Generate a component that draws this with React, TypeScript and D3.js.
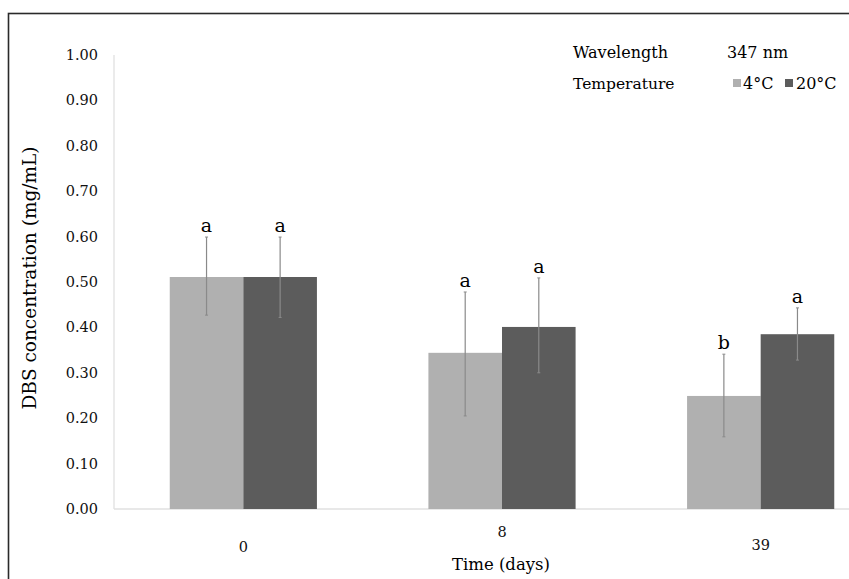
import React from "react";
import * as d3 from "d3";

const categories = ["0", "8", "39"];
const series = ["4°C", "20°C"];
const means4 = [0.511, 0.344, 0.249];
const means20 = [0.511, 0.401, 0.385];
const errLow4 = [0.427, 0.205, 0.159];
const errHigh4 = [0.599, 0.478, 0.341];
const errLow20 = [0.422, 0.300, 0.328];
const errHigh20 = [0.599, 0.509, 0.443];
const letters4 = ["a", "a", "b"];
const letters20 = ["a", "a", "a"];
const yTicks = [0, 0.1, 0.2, 0.3, 0.4, 0.5, 0.6, 0.7, 0.8, 0.9, 1.0];
const colors = ["#b0b0b0", "#5c5c5c"];

const W = 849;
const H = 579;
const FONT = "'DejaVu Serif', serif";

export default function App() {
  const x = d3.scaleBand<string>().domain(categories).range([114, 890]).paddingInner(0.431).paddingOuter(0.2155);
  const xs = d3.scaleBand<string>().domain(series).range([0, x.bandwidth()]);
  const y = d3.scaleLinear().domain([0, 1]).range([509, 55]);

  const seriesData = [
    { means: means4, lo: errLow4, hi: errHigh4, letters: letters4 },
    { means: means20, lo: errLow20, hi: errHigh20, letters: letters20 },
  ];
  const xLabelDy = [0, -15, -2];

  return (
    <svg width={W} height={H} style={{ position: "absolute", left: 0, top: 0, background: "#fff" }}>
      <rect x={0} y={0} width={W} height={H} fill="#fff" />
      <rect x={8.5} y={13.5} width={W + 20} height={H + 20} fill="none" stroke="#2a2a2a" strokeWidth={1.6} />
      <line x1={114} x2={114} y1={y(1)} y2={y(0)} stroke="#e4e4e4" strokeWidth={1.5} />
      <line x1={114} x2={890} y1={y(0)} y2={y(0)} stroke="#e0e0e0" strokeWidth={1.5} />
      {yTicks.map((t) => (
        <text key={t} x={98} y={y(t)} dy="0.35em" textAnchor="end" fontFamily={FONT} fontSize={14.5} fill="#111">
          {t.toFixed(2)}
        </text>
      ))}
      {seriesData.map((s, si) =>
        categories.map((c, ci) => {
          const bx = (x(c) as number) + (xs(series[si]) as number);
          const bw = xs.bandwidth();
          const cx = bx + bw / 2;
          return (
            <g key={`${si}-${ci}`}>
              <rect x={bx} y={y(s.means[ci])} width={bw} height={y(0) - y(s.means[ci])} fill={colors[si]} />
              <line x1={cx} x2={cx} y1={y(s.hi[ci])} y2={y(s.lo[ci])} stroke="#8a8a8a" strokeWidth={1.2} />
              <line x1={cx - 1.5} x2={cx + 1.5} y1={y(s.hi[ci])} y2={y(s.hi[ci])} stroke="#8a8a8a" strokeWidth={1} />
              <line x1={cx - 1.5} x2={cx + 1.5} y1={y(s.lo[ci])} y2={y(s.lo[ci])} stroke="#8a8a8a" strokeWidth={1} />
              <text x={cx} y={y(s.hi[ci]) - 5} textAnchor="middle" fontFamily={FONT} fontSize={19} fill="#000">
                {s.letters[ci]}
              </text>
            </g>
          );
        })
      )}
      {categories.map((c, i) => (
        <text key={c} x={(x(c) as number) + x.bandwidth() / 2} y={552 + xLabelDy[i]} textAnchor="middle" fontFamily={FONT} fontSize={14.5} fill="#111">
          {c}
        </text>
      ))}
      <text x={501} y={570} textAnchor="middle" fontFamily={FONT} fontSize={16.5} fill="#000">Time (days)</text>
      <text transform={`translate(36,${278}) rotate(-90)`} textAnchor="middle" fontFamily={FONT} fontSize={18.5} fill="#000">
        DBS concentration (mg/mL)
      </text>
      <text x={573} y={58} fontFamily={FONT} fontSize={16} fill="#000">Wavelength</text>
      <text x={727} y={58} fontFamily={FONT} fontSize={16} fill="#000">347 nm</text>
      <text x={573} y={89} fontFamily={FONT} fontSize={15.5} fill="#000">Temperature</text>
      <rect x={733} y={79} width={8} height={8} fill={colors[0]} />
      <text x={743} y={89} fontFamily={FONT} fontSize={16} fill="#000">{series[0]}</text>
      <rect x={785} y={79} width={8} height={8} fill={colors[1]} />
      <text x={796} y={89} fontFamily={FONT} fontSize={16} fill="#000">{series[1]}</text>
    </svg>
  );
}
